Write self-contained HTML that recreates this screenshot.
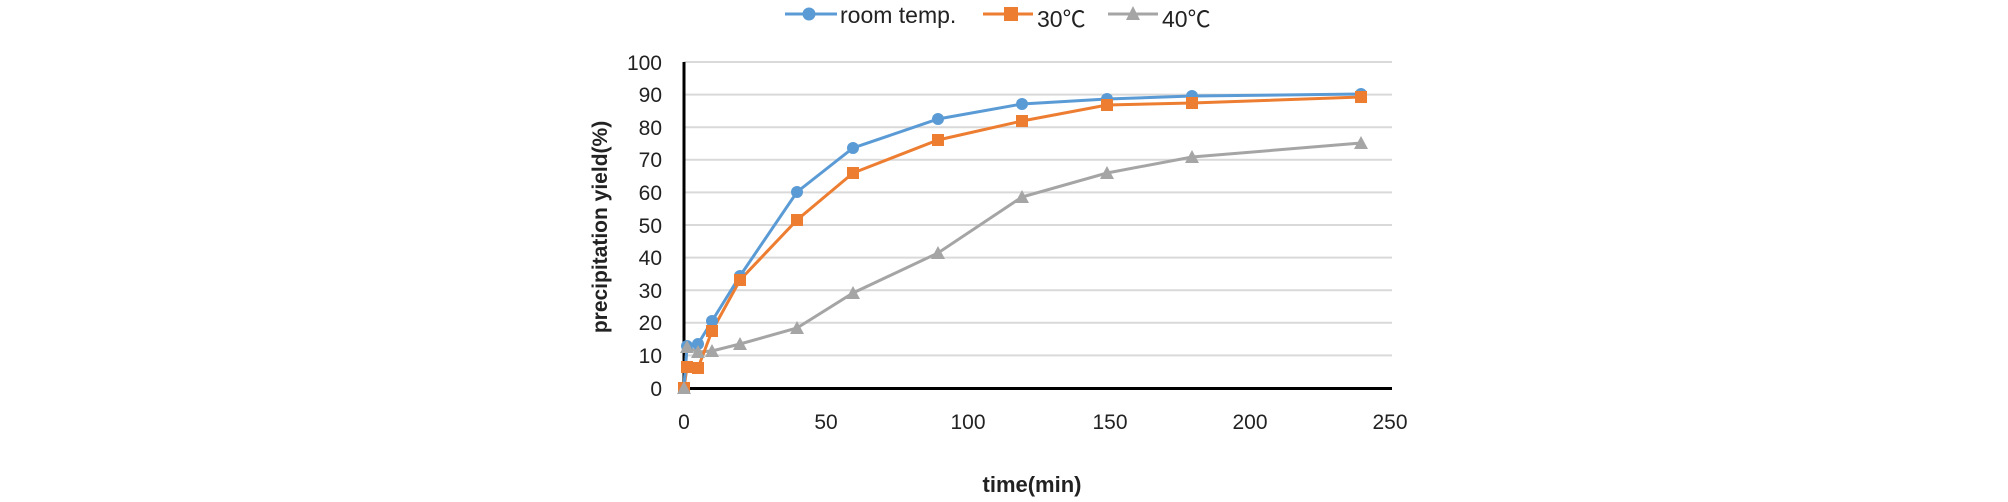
<!DOCTYPE html>
<html><head><meta charset="utf-8"><style>
html,body{margin:0;padding:0;background:#fff;}
svg{display:block;}
text{font-family:"Liberation Sans","Noto Sans CJK KR",sans-serif;fill:#222;}
</style></head><body>
<svg width="2008" height="502" viewBox="0 0 2008 502" xmlns="http://www.w3.org/2000/svg">
<g stroke="#d9d9d9" stroke-width="2">
<line x1="684" x2="1392" y1="62" y2="62"/><line x1="684" x2="1392" y1="94.6" y2="94.6"/>
<line x1="684" x2="1392" y1="127.2" y2="127.2"/><line x1="684" x2="1392" y1="159.8" y2="159.8"/>
<line x1="684" x2="1392" y1="192.4" y2="192.4"/><line x1="684" x2="1392" y1="225" y2="225"/>
<line x1="684" x2="1392" y1="257.6" y2="257.6"/><line x1="684" x2="1392" y1="290.2" y2="290.2"/>
<line x1="684" x2="1392" y1="322.8" y2="322.8"/><line x1="684" x2="1392" y1="355.4" y2="355.4"/>
</g>
<line x1="684" x2="684" y1="62" y2="389" stroke="#000" stroke-width="3"/>
<line x1="683" x2="1392" y1="388.5" y2="388.5" stroke="#000" stroke-width="3"/>
<g font-size="21" text-anchor="end">
<text x="662" y="70">100</text><text x="662" y="102">90</text><text x="662" y="135">80</text>
<text x="662" y="167">70</text><text x="662" y="200">60</text><text x="662" y="233">50</text>
<text x="662" y="265">40</text><text x="662" y="298">30</text><text x="662" y="330">20</text>
<text x="662" y="363">10</text><text x="662" y="396">0</text>
</g>
<g font-size="21" text-anchor="middle">
<text x="684" y="429">0</text><text x="826" y="429">50</text><text x="968" y="429">100</text>
<text x="1110" y="429">150</text><text x="1250" y="429">200</text><text x="1390" y="429">250</text>
</g>
<text x="1032" y="492" font-size="22" font-weight="bold" text-anchor="middle">time(min)</text>
<text transform="translate(607,227) rotate(-90)" font-size="21" font-weight="bold" text-anchor="middle">precipitation yield(%)</text>
<polyline fill="none" stroke="#a5a5a5" stroke-width="3" points="684,388 687,347 698,352 712,351 740,344 797,328 853,293 938,253 1022,197 1107,173 1192,157 1361,143"/>
<polyline fill="none" stroke="#ed7d31" stroke-width="3" points="684,388 687,367 698,368 712,331 740,280 797,220 853,173 938,140 1022,121 1107,105 1192,103 1361,97"/>
<polyline fill="none" stroke="#5b9bd5" stroke-width="3" points="684,388 687,346 698,344 712,321 740,276 797,192 853,148 938,119 1022,104 1107,99 1192,96 1361,94"/>
<g fill="#5b9bd5">
<circle cx="684" cy="388" r="6"/><circle cx="687" cy="346" r="6"/><circle cx="698" cy="344" r="6"/><circle cx="712" cy="321" r="6"/><circle cx="740" cy="276" r="6"/><circle cx="797" cy="192" r="6"/><circle cx="853" cy="148" r="6"/><circle cx="938" cy="119" r="6"/><circle cx="1022" cy="104" r="6"/><circle cx="1107" cy="99" r="6"/><circle cx="1192" cy="96" r="6"/><circle cx="1361" cy="94" r="6"/>
</g>
<g fill="#ed7d31">
<rect x="678" y="382" width="12" height="12"/><rect x="681" y="361" width="12" height="12"/><rect x="692" y="362" width="12" height="12"/><rect x="706" y="325" width="12" height="12"/><rect x="734" y="274" width="12" height="12"/><rect x="791" y="214" width="12" height="12"/><rect x="847" y="167" width="12" height="12"/><rect x="932" y="134" width="12" height="12"/><rect x="1016" y="115" width="12" height="12"/><rect x="1101" y="99" width="12" height="12"/><rect x="1186" y="97" width="12" height="12"/><rect x="1355" y="91" width="12" height="12"/>
</g>
<g fill="#a5a5a5">
<polygon points="684,381 691,394 677,394"/><polygon points="687,340 694,353 680,353"/><polygon points="698,345 705,358 691,358"/><polygon points="712,344 719,357 705,357"/><polygon points="740,337 747,350 733,350"/><polygon points="797,321 804,334 790,334"/><polygon points="853,286 860,299 846,299"/><polygon points="938,246 945,259 931,259"/><polygon points="1022,190 1029,203 1015,203"/><polygon points="1107,166 1114,179 1100,179"/><polygon points="1192,150 1199,163 1185,163"/><polygon points="1361,136 1368,149 1354,149"/>
</g>
<line x1="785" x2="837" y1="14" y2="14" stroke="#5b9bd5" stroke-width="3"/><circle cx="809" cy="14" r="6.5" fill="#5b9bd5"/>
<text x="840" y="23" font-size="23">room temp.</text>
<line x1="983" x2="1033" y1="14" y2="14" stroke="#ed7d31" stroke-width="3"/><rect x="1004" y="7" width="14" height="14" fill="#ed7d31"/>
<text x="1037" y="27" font-size="23">30℃</text>
<line x1="1108" x2="1158" y1="14" y2="14" stroke="#a5a5a5" stroke-width="3"/><polygon points="1133,6 1140,20 1126,20" fill="#a5a5a5"/>
<text x="1162" y="27" font-size="23">40℃</text>
</svg>
</body></html>
